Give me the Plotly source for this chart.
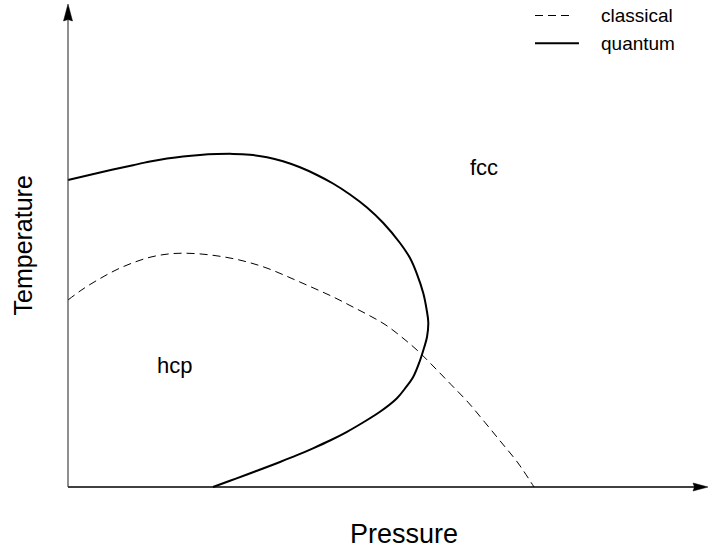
import plotly.graph_objects as go

# Data (pressure, temperature) in arbitrary units
classical_P = [0.00, 0.15, 0.33, 0.50, 0.67, 0.83, 1.00, 1.15, 1.33, 1.50, 1.67, 1.83, 2.00, 2.17, 2.33,
               2.50, 2.67, 2.83, 3.00, 3.17, 3.33, 3.50, 3.67, 3.83, 4.00, 4.17, 4.33, 4.50, 4.66]
classical_T = [1.870, 1.980, 2.090, 2.180, 2.250, 2.300, 2.330, 2.338, 2.330, 2.310, 2.280, 2.240, 2.185,
               2.115, 2.045, 1.970, 1.892, 1.810, 1.722, 1.625, 1.505, 1.360, 1.190, 1.025, 0.848, 0.645,
               0.450, 0.240, 0.000]

quantum_P = [0.00, 0.32, 0.65, 0.82, 0.99, 1.15, 1.32, 1.49, 1.65, 1.82, 1.99, 2.15, 2.32, 2.49, 2.65,
             2.82, 2.99, 3.153, 3.32, 3.42, 3.487, 3.553, 3.587, 3.603, 3.59, 3.563, 3.52, 3.453, 3.37,
             3.287, 3.12, 2.95, 2.79, 2.62, 2.45, 2.29, 2.12, 1.95, 1.79, 1.62, 1.45]
quantum_T = [3.070, 3.145, 3.218, 3.254, 3.284, 3.306, 3.321, 3.329, 3.331, 3.322, 3.298, 3.257, 3.197,
             3.120, 3.035, 2.925, 2.795, 2.640, 2.440, 2.290, 2.137, 1.937, 1.770, 1.645, 1.500, 1.400,
             1.265, 1.103, 0.985, 0.885, 0.752, 0.645, 0.552, 0.465, 0.387, 0.318, 0.250, 0.185, 0.125,
             0.062, 0.000]

series_names = ["classical", "quantum"]
phase_labels = ["fcc", "hcp"]
phase_P = [4.16, 1.06]
phase_T = [3.195, 1.22]

x_axis_end = 6.40
y_axis_end = 4.83

FONT = "Liberation Sans, Arial, Helvetica, sans-serif"

fig = go.Figure()
fig.add_trace(go.Scatter(x=classical_P, y=classical_T, mode="lines", name=series_names[0],
                         line=dict(color="black", width=1, dash="8px,5px", shape="spline", smoothing=1.0),
                         showlegend=False, hoverinfo="skip"))
fig.add_trace(go.Scatter(x=quantum_P, y=quantum_T, mode="lines", name=series_names[1],
                         line=dict(color="black", width=2, shape="spline", smoothing=1.0),
                         showlegend=False, hoverinfo="skip"))

# Axes lines
fig.add_shape(type="line", xref="x", yref="y", x0=0, y0=0, x1=x_axis_end - 0.1, y1=0,
              line=dict(color="black", width=1.5))
fig.add_shape(type="line", xref="x", yref="y", x0=0, y0=0, x1=0, y1=y_axis_end - 0.1,
              line=dict(color="#333333", width=1.1))
# Arrow heads
hx, hw = 0.15, 0.04
fig.add_shape(type="path", xref="x", yref="y",
              path=f"M {x_axis_end},0 L {x_axis_end - hx},{hw} L {x_axis_end - hx + 0.015},0 L {x_axis_end - hx},{-hw} Z",
              fillcolor="black", line=dict(color="black", width=0.5))
hy, hw2 = 0.17, 0.045
fig.add_shape(type="path", xref="x", yref="y",
              path=f"M 0,{y_axis_end} L {-hw2},{y_axis_end - hy} L 0,{y_axis_end - hy + 0.015} L {hw2},{y_axis_end - hy} Z",
              fillcolor="black", line=dict(color="black", width=0.5))

# Phase labels
for lab, px, py in zip(phase_labels, phase_P, phase_T):
    fig.add_annotation(x=px, y=py, text=lab, showarrow=False, xref="x", yref="y",
                       font=dict(family=FONT, size=22, color="black"))

# Axis titles
fig.add_annotation(x=3.355, y=-0.47, text="Pressure", showarrow=False, xref="x", yref="y",
                   font=dict(family=FONT, size=27, color="black"))
fig.add_annotation(x=-0.46, y=2.415, text="Temperature", showarrow=False, xref="x", yref="y",
                   textangle=-90, font=dict(family=FONT, size=25, color="black"))

# Legend (manual)
leg_y = [0.9717, 0.921]
dashes = ["8px,5px", "solid"]
widths = [1, 2]
ends = [0.8068, 0.8166]
for name, yy, d, w, xe in zip(series_names, leg_y, dashes, widths, ends):
    fig.add_shape(type="line", xref="paper", yref="paper", x0=0.7546, x1=xe,
                  y0=yy, y1=yy, line=dict(color="black", width=w, dash=d))
    fig.add_annotation(xref="paper", yref="paper", x=0.8449, y=yy, text=name, showarrow=False,
                       xanchor="left", yanchor="middle", font=dict(family=FONT, size=19, color="black"))

fig.update_layout(
    width=709, height=548,
    margin=dict(l=0, r=0, t=0, b=0),
    paper_bgcolor="white", plot_bgcolor="white",
    xaxis=dict(range=[-0.68, 6.41], visible=False, fixedrange=True),
    yaxis=dict(range=[-0.61, 4.87], visible=False, fixedrange=True),
)

fig.write_html("out.html", config={"displayModeBar": False},
               post_script="document.body.style.margin='0';")
